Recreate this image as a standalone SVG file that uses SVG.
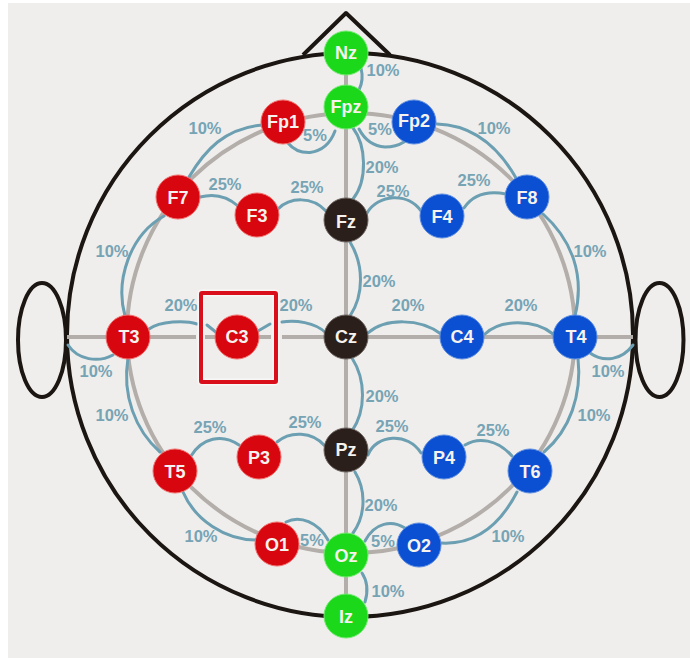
<svg xmlns="http://www.w3.org/2000/svg" width="690" height="658" viewBox="0 0 690 658">
<style>
.head{fill:none;stroke:#1c1613;stroke-width:4}
.guide{fill:none;stroke:#b3aeaa;stroke-width:4}
.arc{fill:none;stroke:#6b9fb1;stroke-width:3;stroke-linecap:round}
.pct{font:bold 16.5px "Liberation Sans",Arial,sans-serif;fill:#76a4b5;text-anchor:middle}
.lbl{font:bold 18px "Liberation Sans",Arial,sans-serif;fill:#f6f2ee;text-anchor:middle}
.red{fill:#d8060f;stroke:#f0716f;stroke-width:1}
.blue{fill:#0b4fd2;stroke:#5d8de0;stroke-width:1}
.green{fill:#1bd91a;stroke:#72e96f;stroke-width:1}
.dark{fill:#2a1f1b;stroke:#6b625e;stroke-width:1}
</style>
<rect width="690" height="658" fill="#ffffff"/>
<rect x="8" y="3" width="682" height="655" fill="#efeeec"/>

<!-- head outline, nose and ears -->
<g id="head">
<ellipse class="head" cx="350" cy="335" rx="283" ry="282"/>
<path class="head" d="M303 55 L346 13 L390 55" stroke-linejoin="round"/>
<ellipse class="head" cx="42" cy="340" rx="24" ry="57"/>
<ellipse class="head" cx="659.500" cy="340" rx="24" ry="57"/>
</g>

<!-- reference lines and measured arcs -->
<g id="connectors">
<ellipse class="guide" cx="351" cy="333" rx="224" ry="220"/>
<path class="guide" d="M346 53V616"/>
<path class="guide" d="M67 337H196M205 337H216M258 337H271M282 337H633"/>
<path class="arc" d="M361 68Q364 80 359 90"/>
<path class="arc" d="M262 125C225 128 205 150 189 177"/>
<path class="arc" d="M288 143Q296 153 310 152.500Q328 150 335 131"/>
<path class="arc" d="M359 129Q368 146 385 147Q396 147 404 142"/>
<path class="arc" d="M437 124C475 125 500 150 516 178"/>
<path class="arc" d="M353 128C366 145 368 180 353 199"/>
<path class="arc" d="M200 197C215 193 228 197 238 206"/>
<path class="arc" d="M278 209C290 197 312 196 326 211"/>
<path class="arc" d="M367 213C378 194 408 192 421 211"/>
<path class="arc" d="M464 208C474 193 490 191 506 194"/>
<path class="arc" d="M164 216C130 235 115 280 125 316"/>
<path class="arc" d="M543 214C572 240 585 275 575 316"/>
<path class="arc" d="M149 329C160 321 185 320 197 324"/>
<path class="arc" d="M207 325L217 333"/>
<path class="arc" d="M258 331L270 324"/>
<path class="arc" d="M282 322C295 320 315 322 326 333"/>
<path class="arc" d="M368 333C385 318 420 318 441 334"/>
<path class="arc" d="M485 334C500 319 535 319 553 334"/>
<path class="arc" d="M350 242C364 265 364 295 350 316"/>
<path class="arc" d="M352 358C366 380 366 410 352 431"/>
<path class="arc" d="M68 345C78 360 98 363 113 355"/>
<path class="arc" d="M633 345C622 360 604 363 590 353"/>
<path class="arc" d="M128 358C122 395 135 430 160 452"/>
<path class="arc" d="M578 358C582 395 570 430 544 452"/>
<path class="arc" d="M183 492C195 520 225 540 256 540"/>
<path class="arc" d="M517 492C500 525 475 545 441 543"/>
<path class="arc" d="M191 456C202 438 222 433 239 445"/>
<path class="arc" d="M277 442C290 431 312 431 325 446"/>
<path class="arc" d="M368 455C376 434 408 432 421 453"/>
<path class="arc" d="M465 445C478 437 497 439 512 456"/>
<path class="arc" d="M355 472C366 490 366 515 353 533"/>
<path class="arc" d="M286 522C300 515 318 522 328 540"/>
<path class="arc" d="M365 541C375 522 392 520 405 528"/>
<path class="arc" d="M362 573C368 582 368 592 365 602"/>
</g>

<!-- distance percentages -->
<g id="percentages">
<text class="pct" x="383" y="76">10%</text>
<text class="pct" x="205" y="134">10%</text>
<text class="pct" x="315" y="141">5%</text>
<text class="pct" x="380" y="135">5%</text>
<text class="pct" x="494" y="134">10%</text>
<text class="pct" x="382" y="173">20%</text>
<text class="pct" x="225" y="190">25%</text>
<text class="pct" x="307" y="193">25%</text>
<text class="pct" x="393" y="197">25%</text>
<text class="pct" x="474" y="186">25%</text>
<text class="pct" x="112" y="257">10%</text>
<text class="pct" x="590" y="257">10%</text>
<text class="pct" x="379" y="287">20%</text>
<text class="pct" x="181" y="311">20%</text>
<text class="pct" x="296" y="311">20%</text>
<text class="pct" x="408" y="311">20%</text>
<text class="pct" x="521" y="311">20%</text>
<text class="pct" x="96" y="377">10%</text>
<text class="pct" x="608" y="377">10%</text>
<text class="pct" x="382" y="402">20%</text>
<text class="pct" x="112" y="421">10%</text>
<text class="pct" x="594" y="421">10%</text>
<text class="pct" x="210" y="433">25%</text>
<text class="pct" x="305" y="428">25%</text>
<text class="pct" x="392" y="432">25%</text>
<text class="pct" x="493" y="436">25%</text>
<text class="pct" x="381" y="511">20%</text>
<text class="pct" x="201" y="542">10%</text>
<text class="pct" x="312" y="546">5%</text>
<text class="pct" x="383" y="547">5%</text>
<text class="pct" x="508" y="542">10%</text>
<text class="pct" x="388" y="597">10%</text>
</g>

<!-- electrode sites -->
<g id="Nz"><circle class="green" cx="346" cy="53" r="22"/><text class="lbl" x="346" y="59">Nz</text></g>
<g id="Fpz"><circle class="green" cx="346" cy="107" r="22"/><text class="lbl" x="346" y="113">Fpz</text></g>
<g id="Fp1"><circle class="red" cx="283" cy="122" r="22"/><text class="lbl" x="283" y="128">Fp1</text></g>
<g id="Fp2"><circle class="blue" cx="414" cy="122" r="22"/><text class="lbl" x="414" y="127">Fp2</text></g>
<g id="F7"><circle class="red" cx="178" cy="197" r="22"/><text class="lbl" x="178" y="204">F7</text></g>
<g id="F3"><circle class="red" cx="257" cy="215" r="22"/><text class="lbl" x="257" y="222">F3</text></g>
<g id="Fz"><circle class="dark" cx="346" cy="220" r="22"/><text class="lbl" x="346" y="228">Fz</text></g>
<g id="F4"><circle class="blue" cx="442" cy="216" r="22"/><text class="lbl" x="442" y="223">F4</text></g>
<g id="F8"><circle class="blue" cx="527" cy="197" r="22"/><text class="lbl" x="527" y="204">F8</text></g>
<g id="T3"><circle class="red" cx="128" cy="337" r="22"/><text class="lbl" x="129" y="343">T3</text></g>
<g id="C3"><circle class="red" cx="237" cy="337" r="22"/><text class="lbl" x="237" y="343">C3</text></g>
<g id="Cz"><circle class="dark" cx="346" cy="337" r="22"/><text class="lbl" x="346" y="343">Cz</text></g>
<g id="C4"><circle class="blue" cx="462" cy="337" r="22"/><text class="lbl" x="462" y="343">C4</text></g>
<g id="T4"><circle class="blue" cx="575" cy="337" r="22"/><text class="lbl" x="576" y="343">T4</text></g>
<g id="T5"><circle class="red" cx="175" cy="471" r="22"/><text class="lbl" x="175" y="478">T5</text></g>
<g id="P3"><circle class="red" cx="259" cy="457" r="22"/><text class="lbl" x="259" y="464">P3</text></g>
<g id="Pz"><circle class="dark" cx="346" cy="450" r="22"/><text class="lbl" x="346" y="456">Pz</text></g>
<g id="P4"><circle class="blue" cx="444" cy="457" r="22"/><text class="lbl" x="444" y="464">P4</text></g>
<g id="T6"><circle class="blue" cx="530" cy="471" r="22"/><text class="lbl" x="530" y="478">T6</text></g>
<g id="O1"><circle class="red" cx="277" cy="544" r="22"/><text class="lbl" x="277" y="551">O1</text></g>
<g id="Oz"><circle class="green" cx="346" cy="555" r="22"/><text class="lbl" x="346" y="562">Oz</text></g>
<g id="O2"><circle class="blue" cx="419" cy="545" r="22"/><text class="lbl" x="419" y="552">O2</text></g>
<g id="Iz"><circle class="green" cx="346" cy="616" r="22"/><text class="lbl" x="346" y="623">Iz</text></g>

<!-- highlight around C3 -->
<g id="C3-highlight" fill="none">
<rect x="201" y="293" width="75" height="89" rx="1" stroke="#f8f7f6" stroke-width="7"/>
<rect x="201" y="293" width="75" height="89" rx="1" stroke="#d9101c" stroke-width="4"/>
</g>
</svg>
